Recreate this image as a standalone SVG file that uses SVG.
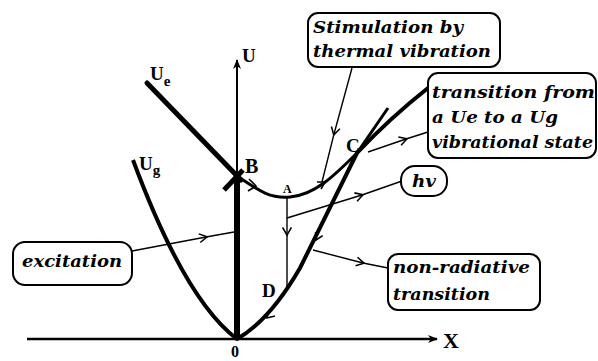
<svg xmlns="http://www.w3.org/2000/svg" width="598" height="361" viewBox="0 0 598 361">
<style>
.bg{fill:#fff}
.box{fill:#fff;stroke:#000;stroke-width:2}
.fancy{font-family:"DejaVu Serif","Liberation Serif",serif;font-style:italic;font-weight:bold;font-size:16px;fill:#000}
.lbl{font-family:"Liberation Serif","Times New Roman",serif;font-weight:bold;fill:#000}
.conn{fill:none;stroke:#000;stroke-width:1.4;marker-mid:url(#chev)}
.chev{fill:none;stroke:#000;stroke-width:1.6}
</style>
<defs>
<marker id="chev" viewBox="0 0 10 10" refX="7" refY="5" markerWidth="11" markerHeight="11" markerUnits="userSpaceOnUse" orient="auto">
<path d="M1,1 L8,5 L1,9" fill="none" stroke="#000" stroke-width="1.4"/>
</marker>
<marker id="axhead" viewBox="0 0 10 10" refX="9" refY="5" markerWidth="10" markerHeight="10" markerUnits="userSpaceOnUse" orient="auto">
<path d="M0,1 L10,5 L0,9 L3,5 Z" fill="#000"/>
</marker>
</defs>
<rect class="bg" x="0" y="0" width="598" height="361"/>

<g id="axes">
<path d="M27,339 L437,339" stroke="#000" stroke-width="2.4" fill="none" marker-end="url(#axhead)"/>
<path d="M237,339 L237,60" stroke="#000" stroke-width="2" fill="none" marker-end="url(#axhead)"/>
<path d="M237,176 L237,339" stroke="#000" stroke-width="6" fill="none"/>
<text class="lbl" x="443" y="348" font-size="22">X</text>
<text class="lbl" x="242" y="62" font-size="19">U</text>
<text class="lbl" x="231" y="357" font-size="16">0</text>
</g>

<g id="curve-Ue">
<path d="M147,83 L241,180" stroke="#000" stroke-width="5" fill="none" stroke-linecap="round"/>
<path d="M224,190 L243,170" stroke="#000" stroke-width="5" fill="none"/>
<path d="M240,178 C258,190 270,199 290,197 C315,195 335,175 357,153 L388,108" stroke="#000" stroke-width="3" fill="none"/>
<text class="lbl" x="150" y="80" font-size="19">U<tspan font-size="15" dy="6">e</tspan></text>
</g>

<g id="curve-Ug">
<path d="M133,160 Q185,300 237,339 Q270,320 300,268 L357,153 Q390,118 428,88" stroke="#000" stroke-width="4" fill="none" stroke-linejoin="round"/>
<text class="lbl" x="139" y="170" font-size="19">U<tspan font-size="15" dy="5">g</tspan></text>
</g>

<g id="point-B"><text class="lbl" x="245" y="173" font-size="20">B</text></g>
<g id="point-A"><text class="lbl" x="283" y="193" font-size="12">A</text></g>
<g id="point-C"><text class="lbl" x="346" y="152" font-size="19">C</text></g>
<g id="point-D"><text class="lbl" x="262" y="297" font-size="19">D</text></g>

<g id="box-stimulation">
<rect class="box" x="308" y="13" width="192" height="54" rx="10"/>
<text class="fancy" x="313" y="33" textLength="150" lengthAdjust="spacingAndGlyphs">Stimulation by</text>
<text class="fancy" x="313" y="57" textLength="178" lengthAdjust="spacingAndGlyphs">thermal vibration</text>
</g>

<g id="box-transition">
<rect class="box" x="428" y="73" width="168" height="85" rx="10"/>
<text class="fancy" x="432" y="98" textLength="163" lengthAdjust="spacingAndGlyphs">transition from</text>
<text class="fancy" x="432" y="123" textLength="126" lengthAdjust="spacingAndGlyphs">a Ue to a Ug</text>
<text class="fancy" x="432" y="148" textLength="161" lengthAdjust="spacingAndGlyphs">vibrational state</text>
</g>

<g id="box-hv">
<rect class="box" x="401" y="166" width="46" height="30" rx="14"/>
<text class="fancy" x="412" y="187" textLength="24" lengthAdjust="spacingAndGlyphs">hv</text>
</g>

<g id="box-excitation">
<rect class="box" x="13" y="242" width="119" height="43" rx="12"/>
<text class="fancy" x="22" y="267" textLength="100" lengthAdjust="spacingAndGlyphs">excitation</text>
</g>

<g id="box-nonradiative">
<rect class="box" x="388" y="254" width="152" height="56" rx="10"/>
<text class="fancy" x="393" y="273" textLength="137" lengthAdjust="spacingAndGlyphs">non-radiative</text>
<text class="fancy" x="393" y="300" textLength="97" lengthAdjust="spacingAndGlyphs">transition</text>
</g>

<g id="connectors">
<path class="conn" d="M132,251 L206,237 L234,232"/>
<path class="conn" d="M352,68 L334,134 L322,182"/>
<path class="conn" d="M368,152 L406,139 L428,132"/>
<path class="conn" d="M287,218 L362,195 L402,181"/>
<path class="conn" d="M313,250 L363,263 L388,268"/>
<path class="conn" d="M287,197 L287,234 L287,289"/>
<path class="chev" d="M249,179 L256,186 L248,191"/>
<path class="chev" d="M317,182 L325,182 L321,189"/>
<path class="chev" d="M315.6,232 L316,240 L322.7,235.6"/>
<path class="chev" d="M269,310 L267,318 L275,316"/>
</g>
</svg>
